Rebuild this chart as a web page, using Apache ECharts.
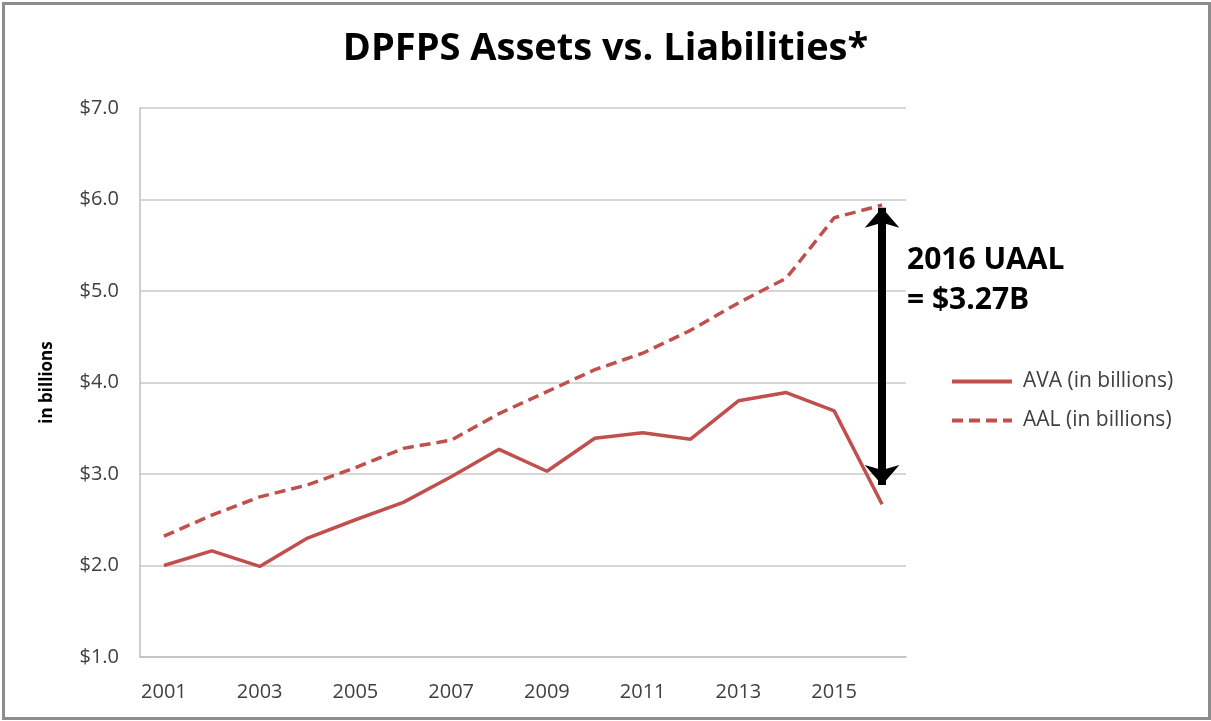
<!DOCTYPE html>
<html>
<head>
<meta charset="utf-8">
<script src="https://cdn.jsdelivr.net/npm/echarts@6/dist/echarts.min.js"></script>
<style>
  html, body { margin: 0; padding: 0; background: #fff; }
  #chartBox { width: 1211px; height: 721px; }
</style>
</head>
<body>
<div id="chartBox"></div>
<script>
// data
var years = ['2001','2002','2003','2004','2005','2006','2007','2008','2009','2010','2011','2012','2013','2014','2015','2016'];
var ava = [2.00, 2.16, 1.99, 2.30, 2.50, 2.69, 2.97, 3.27, 3.03, 3.39, 3.45, 3.38, 3.80, 3.89, 3.69, 2.67];
var aal = [2.32, 2.55, 2.75, 2.88, 3.07, 3.28, 3.37, 3.66, 3.90, 4.14, 4.32, 4.57, 4.87, 5.14, 5.80, 5.94];
var yTicks = [1, 2, 3, 4, 5, 6, 7];
var gapTop = 5.91, gapBottom = 2.88;   // ends of the UAAL arrow

var red = '#C0504D';
var font = '"Open Sans", "Liberation Sans", sans-serif';

var myChart = echarts.init(document.getElementById('chartBox'));
var option = {
    backgroundColor: '#fff',
    animation: false,
    title: {
        text: 'DPFPS Assets vs. Liabilities*',
        left: 'center',
        top: 25,
        textStyle: { fontFamily: font, fontSize: 38, fontWeight: 'bold', color: '#000' }
    },
    legend: {
        orient: 'vertical',
        left: 945,
        top: 366,
        itemWidth: 60,
        itemHeight: 14,
        itemGap: 18,
        itemStyle: { opacity: 0 },
        lineStyle: { width: 4 },
        textStyle: { fontFamily: font, fontSize: 21, color: '#404040', padding: [0, 0, 0, 6] },
        data: ['AVA (in billions)', 'AAL (in billions)']
    },
    grid: { left: 140, right: 305, top: 108, bottom: 64 },
    xAxis: {
        type: 'category',
        data: years,
        boundaryGap: true,
        axisLine: { lineStyle: { color: '#bfbfbf', width: 1.5 } },
        axisTick: { alignWithLabel: true, length: 8, lineStyle: { color: '#bfbfbf', width: 1.5 } },
        axisLabel: { interval: 1, margin: 25, fontFamily: font, fontSize: 20, color: '#404040' }
    },
    yAxis: {
        type: 'value',
        min: yTicks[0],
        max: yTicks[yTicks.length - 1],
        interval: 1,
        name: 'in billions',
        nameLocation: 'middle',
        nameRotate: 90,
        nameGap: 84,
        nameTextStyle: { fontFamily: font, fontSize: 17, fontWeight: 'bold', color: '#000' },
        axisLine: { show: true, lineStyle: { color: '#bfbfbf', width: 1.5 } },
        axisTick: { show: false },
        splitLine: { lineStyle: { color: '#c8c8c8', width: 1.5 } },
        axisLabel: {
            margin: 21,
            fontFamily: font, fontSize: 20, color: '#404040',
            formatter: function (v) { return '$' + v.toFixed(1); }
        }
    },
    series: [
        {
            name: 'AVA (in billions)',
            type: 'line',
            data: ava,
            symbol: 'none',
            lineStyle: { color: red, width: 3.5 },
            itemStyle: { color: red },
            markLine: {
                silent: true,
                symbol: ['arrow', 'arrow'],
                symbolSize: [26, 20],
                label: { show: false },
                lineStyle: { color: '#000', width: 8, type: 'solid' },
                data: [[
                    { coord: ['2016', gapTop] },
                    { coord: ['2016', gapBottom] }
                ]]
            }
        },
        {
            name: 'AAL (in billions)',
            type: 'line',
            data: aal,
            symbol: 'none',
            lineStyle: { color: red, width: 3.5, type: [11, 6] },
            itemStyle: { color: red }
        }
    ],
    graphic: [
        {
            type: 'rect',
            left: 1, top: 1,
            shape: { width: 1206, height: 715 },
            style: { fill: 'none', stroke: '#8c8c8c', lineWidth: 3 },
            silent: true
        },
        {
            type: 'text',
            left: 907, top: 240,
            style: {
                text: '2016 UAAL\n= $3.27B',
                font: 'bold 30px ' + font,
                lineHeight: 40,
                fill: '#000'
            }
        }
    ]
};
myChart.setOption(option);
</script>
</body>
</html>
